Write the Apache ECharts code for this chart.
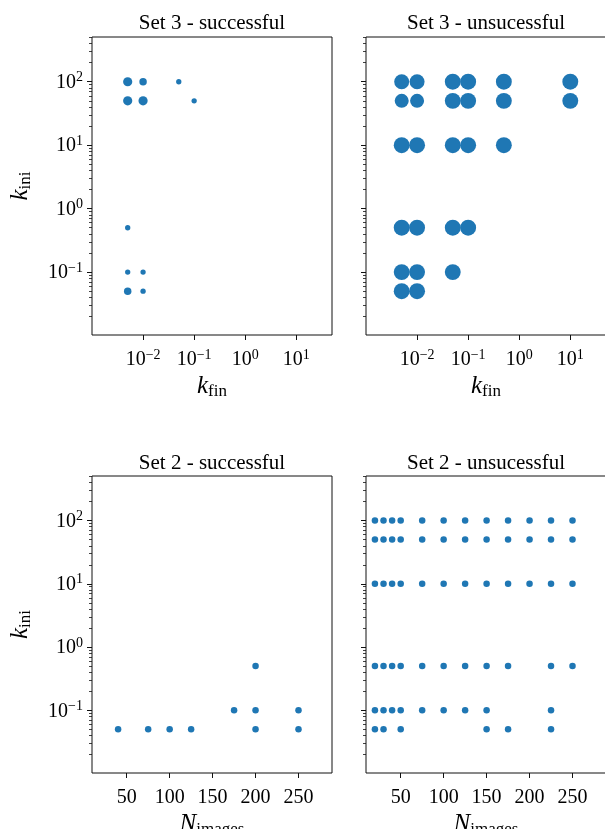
<!DOCTYPE html>
<html>
<head>
<meta charset="utf-8">
<script src="https://cdn.jsdelivr.net/npm/echarts@6/dist/echarts.min.js"></script>
<style>
  html, body { margin: 0; padding: 0; background: #fff; }
  #chart { width: 605px; height: 829px; }
</style>
</head>
<body>
<div id="chart"></div>
<script>
// Set 3 - successful (k_fin, k_ini, number of runs at that point)
const set3OkKfin = [0.005, 0.01, 0.05, 0.005, 0.01, 0.1, 0.005, 0.005, 0.01, 0.005, 0.01]
const set3OkKini = [100, 100, 100, 50, 50, 50, 0.5, 0.1, 0.1, 0.05, 0.05]
const set3OkCount = [3, 2, 1, 3, 3, 1, 1, 1, 1, 2, 1]

// Set 3 - unsucessful
const set3FailKfin = [
  0.005, 0.01, 0.05, 0.1, 0.5, 10,
  0.005, 0.01, 0.05, 0.1, 0.5, 10,
  0.005, 0.01, 0.05, 0.1, 0.5,
  0.005, 0.01, 0.05, 0.1,
  0.005, 0.01, 0.05,
  0.005, 0.01,
]
const set3FailKini = [
  100, 100, 100, 100, 100, 100,
  50, 50, 50, 50, 50, 50,
  10, 10, 10, 10, 10,
  0.5, 0.5, 0.5, 0.5,
  0.1, 0.1, 0.1,
  0.05, 0.05,
]
const set3FailCount = [
  8, 8, 9, 9, 9, 9,
  7, 7, 9, 9, 9, 9,
  9, 9, 9, 9, 9,
  9, 9, 9, 9,
  9, 9, 9,
  9, 9,
]

// Set 2 - successful (N_images, k_ini)
const set2OkN = [40, 75, 100, 125, 175, 200, 200, 200, 250, 250]
const set2OkKini = [0.05, 0.05, 0.05, 0.05, 0.1, 0.5, 0.1, 0.05, 0.1, 0.05]

// Set 2 - unsucessful, one list of N_images per k_ini level
const set2FailLevels = [100, 50, 10, 0.5, 0.1, 0.05]
const set2FailN = [
  [20, 30, 40, 50, 75, 100, 125, 150, 175, 200, 225, 250],
  [20, 30, 40, 50, 75, 100, 125, 150, 175, 200, 225, 250],
  [20, 30, 40, 50, 75, 100, 125, 150, 175, 200, 225, 250],
  [20, 30, 40, 50, 75, 100, 125, 150, 175, 225, 250],
  [20, 30, 40, 50, 75, 100, 125, 150, 225],
  [20, 30, 50, 150, 175, 225],
]

// axis ticks
const kiniTicks = [0.1, 1, 10, 100]
const kfinTicks = [0.01, 0.1, 1, 10]
const nTicks = [50, 100, 150, 200, 250]

const titles = ['Set 3 - successful', 'Set 3 - unsucessful', 'Set 2 - successful', 'Set 2 - unsucessful']

const FONT = 'Liberation Serif'
const BLUE = '#1f77b4'
const Y_MIN = 0.0102
const Y_MAX = 507
const X_LOG_MIN = 0.001
const X_LOG_MAX = 50
const X_N_MIN = 9.6
const X_N_MAX = 289

// minor ticks of the log axis: 2..9 x 10^k
let kiniMinor = []
for (let k = -2; k <= 2; k++) {
  for (let m = 2; m <= 9; m++) {
    let v = m * Math.pow(10, k)
    if (v > Y_MIN && v < Y_MAX) kiniMinor.push(v)
  }
}

function powLabel(v) {
  let e = Math.round(Math.log10(v))
  return '{b|10}{s|' + (e < 0 ? '\u2212' + (-e) : e) + '}'
}

const tickRich = {
  b: { fontFamily: FONT, fontSize: 20, color: '#000', verticalAlign: 'bottom', lineHeight: 22 },
  s: { fontFamily: FONT, fontSize: 14, color: '#000', verticalAlign: 'top', lineHeight: 13 },
}
const nameRich = {
  k: { fontFamily: FONT, fontStyle: 'italic', fontSize: 25, color: '#000', verticalAlign: 'top', lineHeight: 26 },
  sub: { fontFamily: FONT, fontSize: 17, color: '#000', verticalAlign: 'bottom', lineHeight: 17, padding: [12, 0, 0, 0] },
}

const grids = [
  { left: 92, top: 37, width: 240, height: 298 },
  { left: 366, top: 37, width: 240, height: 298 },
  { left: 92, top: 476, width: 240, height: 297 },
  { left: 366, top: 476, width: 240, height: 297 },
].map((g) =>
  Object.assign(
    { show: true, borderColor: '#111', borderWidth: 1, backgroundColor: '#fff', containLabel: false, outerBoundsMode: 'none' },
    g
  )
)

function xAxisFor(g) {
  let isLog = g < 2
  return {
    type: isLog ? 'log' : 'value',
    gridIndex: g,
    min: isLog ? X_LOG_MIN : X_N_MIN,
    max: isLog ? X_LOG_MAX : X_N_MAX,
    axisLine: { show: false },
    splitLine: { show: false },
    axisTick: { show: true, length: 5, customValues: isLog ? kfinTicks : nTicks, lineStyle: { color: '#111' } },
    axisLabel: {
      show: true,
      margin: 13,
      customValues: isLog ? kfinTicks : nTicks,
      formatter: isLog ? powLabel : '{b|{value}}',
      rich: tickRich,
    },
    name: isLog ? '{k|k}{sub|fin}' : '{k|N}{sub|images}',
    nameLocation: 'middle',
    nameGap: 32,
    nameTextStyle: { rich: nameRich },
  }
}

function yAxesFor(g) {
  let left = g % 2 === 0
  return [
    {
      type: 'log',
      gridIndex: g,
      position: 'left',
      min: Y_MIN,
      max: Y_MAX,
      axisLine: { show: false },
      splitLine: { show: false },
      axisTick: { show: true, length: 5, customValues: kiniTicks, lineStyle: { color: '#111' } },
      axisLabel: { show: left, margin: 9, customValues: kiniTicks, formatter: powLabel, rich: tickRich },
      name: left ? '{k|k}{sub|ini}' : '',
      nameLocation: 'middle',
      nameGap: 58,
      nameTextStyle: { rich: nameRich },
    },
    {
      type: 'log',
      gridIndex: g,
      position: 'left',
      min: Y_MIN,
      max: Y_MAX,
      axisLine: { show: false },
      splitLine: { show: false },
      axisTick: { show: true, length: 3, customValues: kiniMinor, lineStyle: { color: '#111', width: 0.8 } },
      axisLabel: { show: false },
    },
  ]
}

function zip(xs, ys, cs) {
  return xs.map((x, i) => (cs ? [x, ys[i], cs[i]] : [x, ys[i]]))
}

let set2FailData = []
set2FailLevels.forEach((lvl, i) => {
  set2FailN[i].forEach((n) => set2FailData.push([n, lvl]))
})

const sizeByCount = (d) => 5.3 * Math.sqrt(d[2])

let chart = echarts.init(document.getElementById('chart'), null, { renderer: 'canvas' })

let option = {
  animation: false,
  backgroundColor: '#fff',
  grid: grids,
  xAxis: [0, 1, 2, 3].map(xAxisFor),
  yAxis: [].concat(...[0, 1, 2, 3].map(yAxesFor)),
  graphic: titles.map((t, i) => ({
    type: 'text',
    x: grids[i].left + 120,
    y: i < 2 ? 13 : 453,
    style: { text: t, fontFamily: FONT, fontSize: 21, fill: '#000', textAlign: 'center' },
  })),
  series: [
    { type: 'scatter', xAxisIndex: 0, yAxisIndex: 0, data: zip(set3OkKfin, set3OkKini, set3OkCount), symbolSize: sizeByCount },
    { type: 'scatter', xAxisIndex: 1, yAxisIndex: 2, data: zip(set3FailKfin, set3FailKini, set3FailCount), symbolSize: sizeByCount },
    { type: 'scatter', xAxisIndex: 2, yAxisIndex: 4, data: zip(set2OkN, set2OkKini), symbolSize: 6.5 },
    { type: 'scatter', xAxisIndex: 3, yAxisIndex: 6, data: set2FailData, symbolSize: 6.5 },
  ].map((s) => Object.assign({ itemStyle: { color: BLUE, opacity: 1 } }, s)),
}
chart.setOption(option)
</script>
</body>
</html>
